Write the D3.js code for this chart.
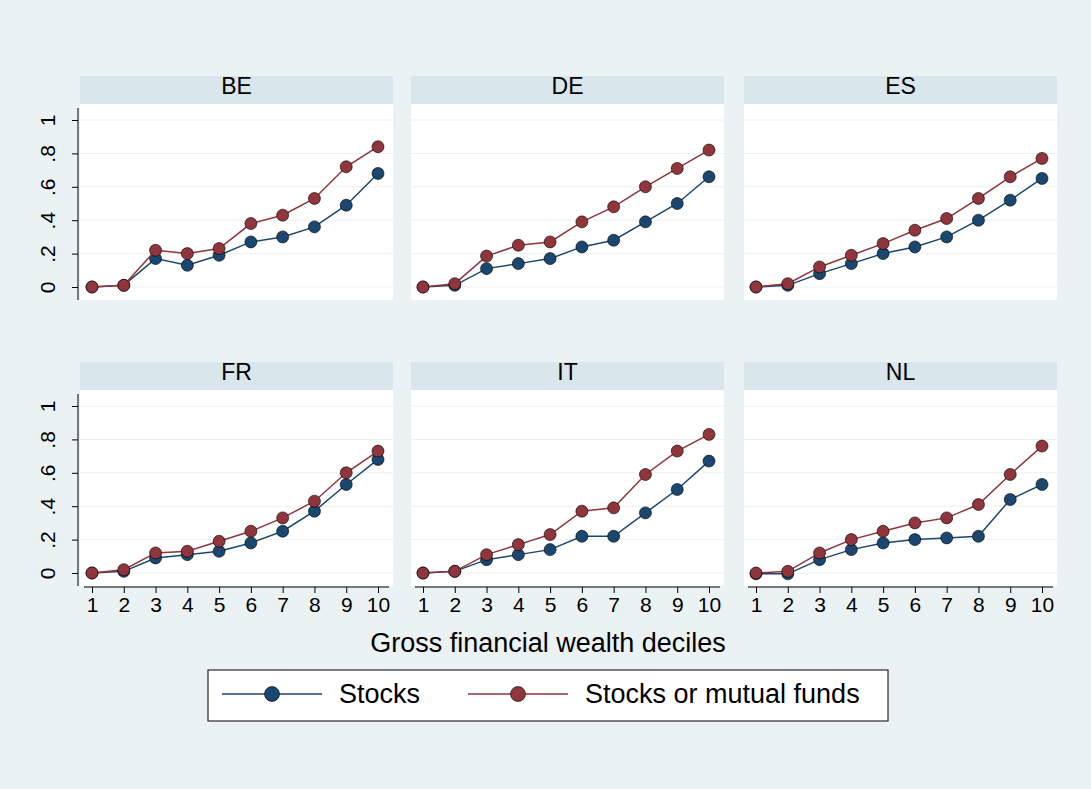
<!DOCTYPE html>
<html><head><meta charset="utf-8">
<script src="https://cdn.jsdelivr.net/npm/d3@7"></script>
<style>body{margin:0;background:#eaf2f3}text{font-family:Arial,"Liberation Sans",sans-serif}</style>
</head><body><svg id="fig"></svg>
<script>
const countries = ['BE', 'DE', 'ES', 'FR', 'IT', 'NL'];
const deciles = [1, 2, 3, 4, 5, 6, 7, 8, 9, 10];
const yTicks = [0, 0.2, 0.4, 0.6, 0.8, 1];
const yTickLabels = ['0', '.2', '.4', '.6', '.8', '1'];
const seriesNames = ['Stocks', 'Stocks or mutual funds'];
const stocks = {
  BE: [0, 0.01, 0.17, 0.13, 0.19, 0.27, 0.30, 0.36, 0.49, 0.68],
  DE: [0, 0.01, 0.11, 0.14, 0.17, 0.24, 0.28, 0.39, 0.50, 0.66],
  ES: [0, 0.01, 0.08, 0.14, 0.20, 0.24, 0.30, 0.40, 0.52, 0.65],
  FR: [0, 0.01, 0.09, 0.11, 0.13, 0.18, 0.25, 0.37, 0.53, 0.68],
  IT: [0, 0.01, 0.08, 0.11, 0.14, 0.22, 0.22, 0.36, 0.50, 0.67],
  NL: [-0.005, -0.005, 0.08, 0.14, 0.18, 0.20, 0.21, 0.22, 0.44, 0.53]
};
const funds = {
  BE: [0, 0.01, 0.22, 0.20, 0.23, 0.38, 0.43, 0.53, 0.72, 0.84],
  DE: [0, 0.02, 0.185, 0.25, 0.27, 0.39, 0.48, 0.60, 0.71, 0.82],
  ES: [0, 0.02, 0.12, 0.19, 0.26, 0.34, 0.41, 0.53, 0.66, 0.77],
  FR: [0, 0.02, 0.12, 0.13, 0.19, 0.25, 0.33, 0.43, 0.60, 0.73],
  IT: [0, 0.01, 0.11, 0.17, 0.23, 0.37, 0.39, 0.59, 0.73, 0.83],
  NL: [0, 0.01, 0.12, 0.20, 0.25, 0.30, 0.33, 0.41, 0.59, 0.76]
};
const colors = ['#1a476f', '#90353b'];

const width = 1091, height = 789;
const svg = d3.select('#fig').attr('width', width).attr('height', height);
svg.append('rect').attr('width', width).attr('height', height).attr('fill', '#eaf2f3');

const panelX = [80, 411, 744], panelW = 313;
const panelY = [76, 362], headH = 28, plotH = 196;

const x = d3.scaleLinear().domain([1, 10]).range([12, 298]);
const y = d3.scaleLinear().domain([0, 1]).range([183, 16]);

countries.forEach((c, i) => {
  const col = i % 3, row = Math.floor(i / 3);
  const g = svg.append('g').attr('transform', `translate(${panelX[col]},${panelY[row]})`);
  g.append('rect').attr('width', panelW).attr('height', headH).attr('fill', '#d9e6eb');
  g.append('text').attr('x', panelW / 2).attr('y', 10).attr('dy', '0.35em')
    .attr('text-anchor', 'middle').attr('font-size', 23).attr('fill', '#000').text(c);
  const p = g.append('g').attr('transform', `translate(0,${headH})`);
  p.append('rect').attr('width', panelW).attr('height', plotH).attr('fill', '#fff');
  p.selectAll('.grid').data(yTicks).enter().append('line')
    .attr('x1', 0).attr('x2', panelW).attr('y1', d => y(d)).attr('y2', d => y(d))
    .attr('stroke', '#eaf2f3').attr('stroke-width', 1);

  if (col === 0) {
    const ya = p.append('g').attr('transform', 'translate(-2,0)')
      .call(d3.axisLeft(y).tickValues(yTicks).tickFormat((d, k) => yTickLabels[k]).tickSize(6).tickSizeOuter(0));
    ya.select('.domain').attr('d', `M0,4V${plotH}`);
    ya.selectAll('text').attr('font-size', 21).attr('fill', '#000')
      .attr('transform', 'rotate(-90)').attr('text-anchor', 'middle').attr('x', 0).attr('y', -30).attr('dy', '0.35em');
  }
  if (row === 1) {
    const xa = p.append('g').attr('transform', `translate(0,${plotH + 1})`)
      .call(d3.axisBottom(x).tickValues(deciles).tickSize(6).tickSizeOuter(0));
    xa.select('.domain').attr('d', `M4,0H${panelW - 4}`);
    xa.selectAll('text').attr('font-size', 21).attr('fill', '#000').attr('dy', '0.75em');
  }

  [stocks[c], funds[c]].forEach((vals, s) => {
    const line = d3.line().x((d, k) => x(deciles[k])).y(d => y(d));
    p.append('path').datum(vals).attr('d', line).attr('fill', 'none')
      .attr('stroke', colors[s]).attr('stroke-width', 1.5);
    p.selectAll(null).data(vals).enter().append('circle')
      .attr('cx', (d, k) => x(deciles[k])).attr('cy', d => y(d)).attr('r', 6)
      .attr('fill', colors[s]).attr('stroke', '#000').attr('stroke-width', 0.6);
  });
});

svg.append('text').attr('x', 548).attr('y', 643).attr('dy', '0.35em').attr('text-anchor', 'middle')
  .attr('font-size', 27).attr('fill', '#000').text('Gross financial wealth deciles');

const lg = svg.append('g');
lg.append('rect').attr('x', 208).attr('y', 670).attr('width', 680).attr('height', 51)
  .attr('fill', '#fff').attr('stroke', '#000').attr('stroke-width', 1);
const legX = [222, 468];
seriesNames.forEach((n, s) => {
  lg.append('line').attr('x1', legX[s]).attr('x2', legX[s] + 100).attr('y1', 694).attr('y2', 694)
    .attr('stroke', colors[s]).attr('stroke-width', 1.5);
  lg.append('circle').attr('cx', legX[s] + 50).attr('cy', 694).attr('r', 7.5)
    .attr('fill', colors[s]).attr('stroke', '#000').attr('stroke-width', 0.6);
  lg.append('text').attr('x', legX[s] + 117).attr('y', 694).attr('dy', '0.35em')
    .attr('font-size', 27).attr('fill', '#000').text(n);
});
</script></body></html>
